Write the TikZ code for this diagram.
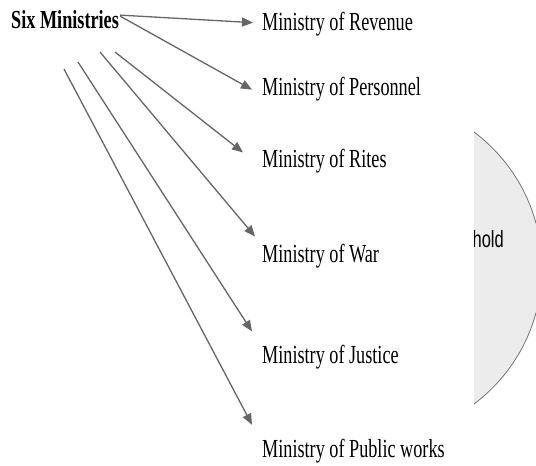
\documentclass[tikz,border=0pt]{standalone}
\usepackage{fontspec}
\setmainfont[FakeStretch=0.7]{Liberation Serif}
\newfontfamily\housefont[FakeStretch=0.7]{Liberation Sans}
\usetikzlibrary{arrows.meta}
\begin{document}
\begin{tikzpicture}[
      x=1pt, y=-1pt,
      ministry/.style={anchor=base west, inner sep=0pt, font=\fontsize{26}{30}\selectfont},
      link/.style={draw=black!60, line width=1.3pt, -{Triangle[length=11pt, width=9pt]}}
      ]

    \useasboundingbox (0,0) rectangle (536,466);

    % household circle, only the right part is seen
    \begin{scope}
      \clip (474,0) rectangle (536,466);
      \draw[fill=gray!15, draw=black!55, line width=0.8pt] (372,268) circle (170);
      \node[anchor=base east, inner sep=0pt, font=\housefont\fontsize{23.5}{28}\selectfont] (house) at (504,247) {Household};
    \end{scope}

    \node[anchor=base west, inner sep=0pt, font=\bfseries\fontsize{26}{30}\selectfont] (six) at (11,28) {Six Ministries};

    \node[ministry] (revenue) at (262,30) {Ministry of Revenue};
    \node[ministry] (personnel) at (262,95) {Ministry of Personnel};
    \node[ministry] (rites) at (262,167.5) {Ministry of Rites};
    \node[ministry] (war) at (262,262.5) {Ministry of War};
    \node[ministry] (justice) at (262,363.5) {Ministry of Justice};
    \node[ministry] (works) at (262,457.7) {Ministry of Public works};

    \coordinate (s3) at (115,52);
    \coordinate (s4) at (100,52);
    \coordinate (s5) at (78,62);
    \coordinate (s6) at (64,69);

    \draw[link] ([shift={(1,-4)}]six.east) -- ([shift={(-9,-1)}]revenue.west);
    \draw[link] ([shift={(1,-3)}]six.east) -- ([shift={(-10,1)}]personnel.west);
    \draw[link] (s3) -- ([shift={(-19,-8.7)}]rites.west);
    \draw[link] (s4) -- ([shift={(-7,-19.7)}]war.west);
    \draw[link] (s5) -- ([shift={(-10,-25.7)}]justice.west);
    \draw[link] (s6) -- ([shift={(-10,-26.6)}]works.west);

\end{tikzpicture}
\end{document}
